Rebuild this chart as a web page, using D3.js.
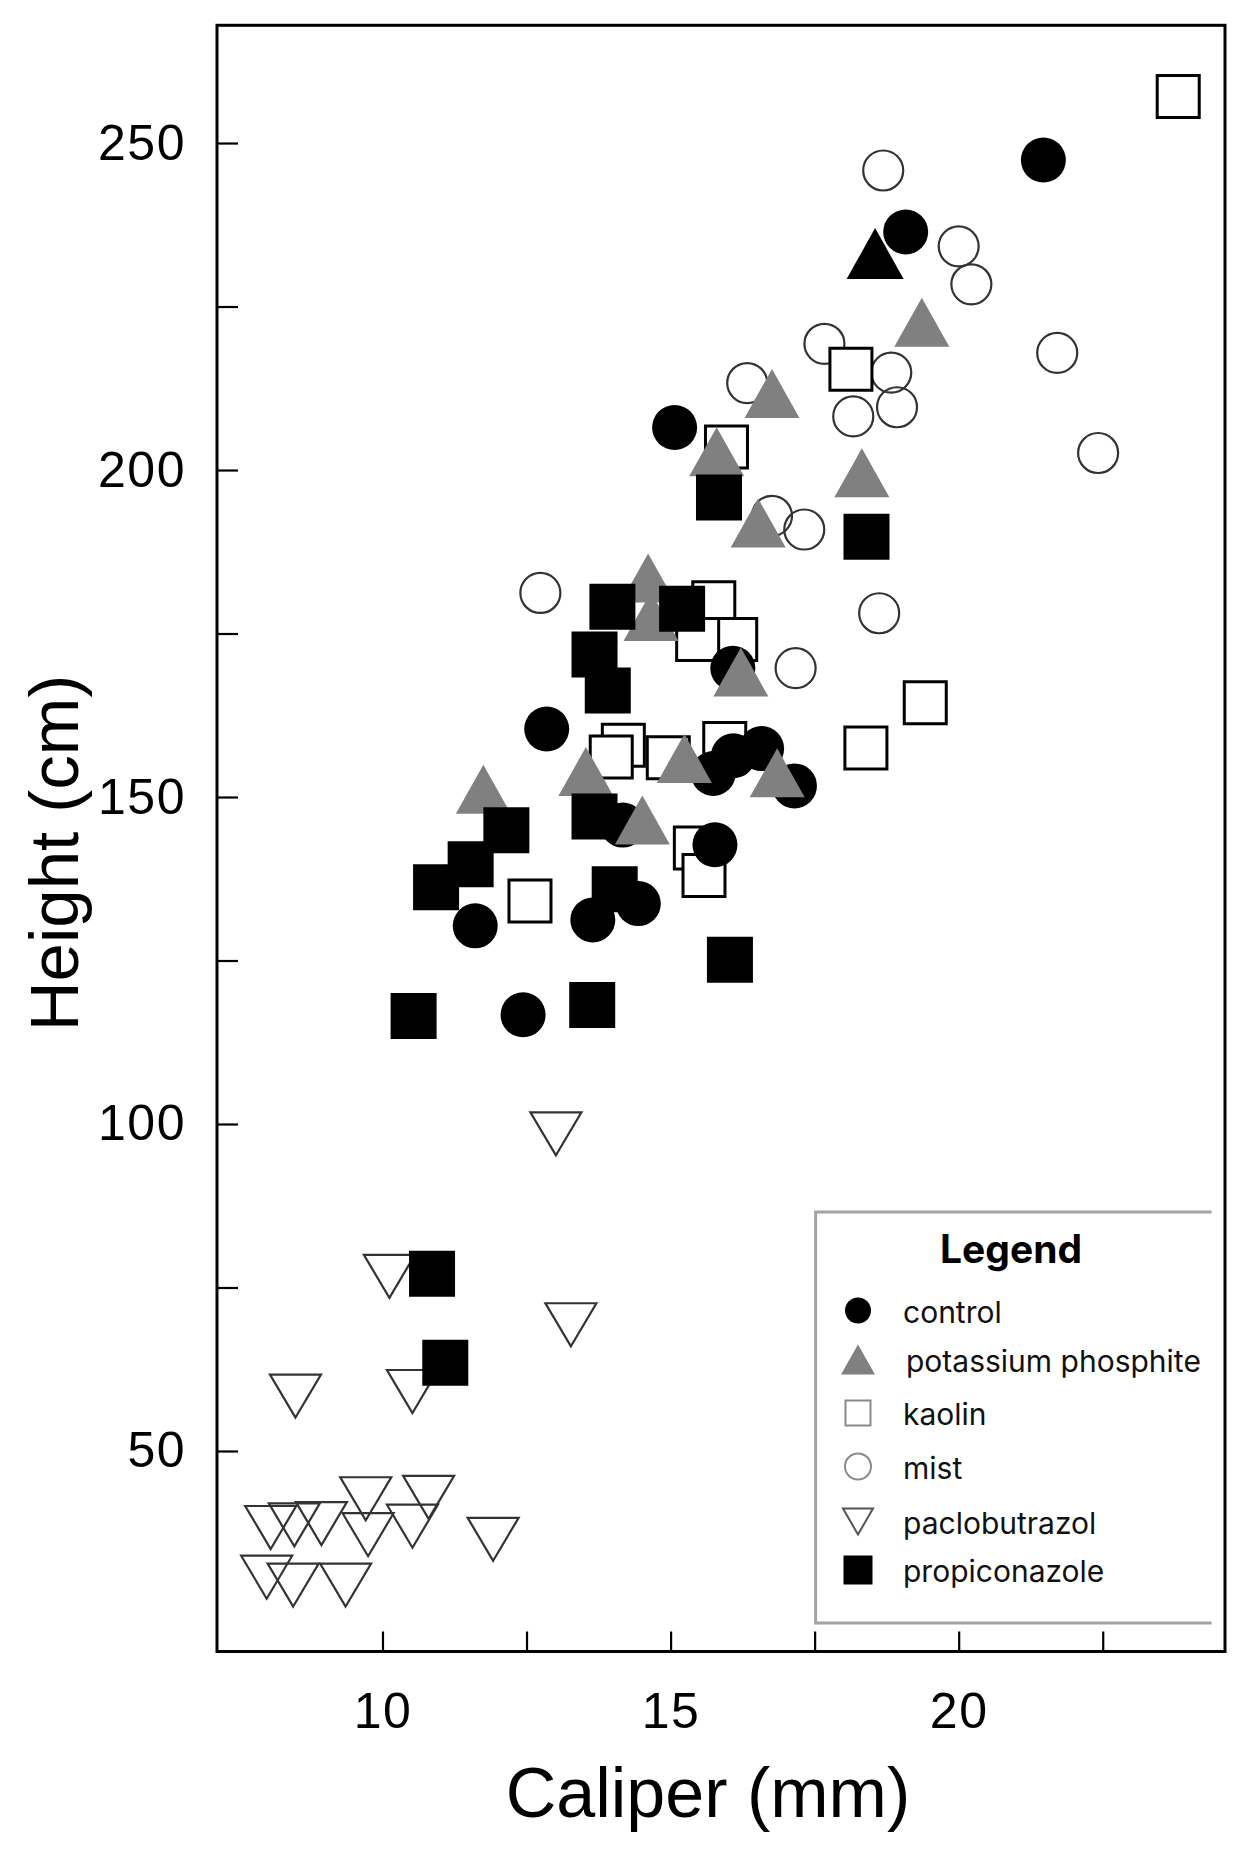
<!DOCTYPE html>
<html><head><meta charset="utf-8">
<script src="https://cdn.jsdelivr.net/npm/d3@7"></script>
<style>html,body{margin:0;padding:0;background:#fff;} svg{display:block;}</style>
</head><body>
<svg id="chart" width="1240" height="1857"></svg>
<script>
// ---------------- DATA (caliper mm, height cm) ----------------
const seriesNames = ["control", "potassium phosphite", "kaolin", "mist", "paclobutrazol", "propiconazole"];

const control = [[21.47,247.4],[19.08,236.4],[15.07,206.5],[16.08,169.7],[12.85,160.4],[15.74,153.6],[16.09,156.3],[16.58,157.4],[17.15,151.7],[14.17,145.7],[15.77,142.7],[14.44,133.7],[13.65,131.2],[11.61,130.3],[12.44,116.7]];
const potassiumPhosphite = [[19.36,222.6],[16.76,211.7],[18.32,199.6],[15.80,202.8],[16.52,191.9],[14.61,183.5],[14.66,177.6],[16.22,169.1],[13.53,153.9],[15.24,155.9],[16.85,153.7],[11.75,151.2],[14.51,146.5]];
const potassiumPhosphiteDark = [[18.55,233.1]];
const kaolin = [[23.81,257.1],[18.13,215.4],[15.97,203.5],[15.75,179.7],[16.13,174.1],[15.47,174.1],[19.42,164.4],[18.39,157.5],[14.18,157.9],[13.97,156.1],[14.96,156.0],[15.94,158.2],[12.56,134.1],[15.43,142.2],[15.58,138.0]];
const mist = [[18.69,245.8],[20.00,234.2],[20.22,228.4],[17.67,219.3],[18.83,214.9],[21.71,217.9],[16.33,213.3],[18.17,208.2],[18.93,209.6],[22.42,202.6],[16.76,193.0],[17.32,190.9],[12.74,181.2],[18.62,178.1],[17.17,169.7]];
const paclobutrazol = [[13.01,98.5],[10.12,76.7],[13.27,69.3],[8.49,58.4],[10.52,59.1],[9.71,42.7],[10.80,42.9],[8.06,38.3],[8.47,38.7],[8.94,38.9],[9.75,37.2],[10.52,38.5],[11.92,36.5],[7.99,30.7],[8.45,29.5],[9.36,29.5]];
const propiconazole = [[15.84,195.8],[18.40,189.8],[13.99,179.1],[15.20,178.8],[13.68,171.8],[13.91,166.3],[12.15,144.9],[11.53,139.7],[10.93,136.2],[13.68,147.0],[14.03,135.9],[16.03,125.1],[10.54,116.5],[13.64,118.2],[10.86,77.1],[11.09,63.5]];

const xTicks = [10, 12.5, 15, 17.5, 20, 22.5];
const xTickLabels = ["10", "", "15", "", "20", ""];
const yTicks = [50, 75, 100, 125, 150, 175, 200, 225, 250];
const yTickLabels = ["50", "", "100", "", "150", "", "200", "", "250"];
const xTitle = "Caliper (mm)";
const yTitle = "Height (cm)";
const legendTitle = "Legend";

// ---------------- LAYOUT ----------------
const svg = d3.select("#chart");
const P = {left: 217, top: 25.3, right: 1225, bottom: 1651.5};
const x = d3.scaleLinear().domain([7.128, 24.622]).range([P.left, P.right]);
const y = d3.scaleLinear().domain([19.34, 268.0]).range([P.bottom, P.top]);

const numFont = "'Liberation Sans', Arial, Helvetica, sans-serif";
const legFont = "Inter, 'Noto Sans', sans-serif";

// symbol path helpers
const circ = r => `M${r},0A${r},${r} 0 1,1 ${-r},0A${r},${r} 0 1,1 ${r},0Z`;
const sq = s => `M${-s/2},${-s/2}h${s}v${s}h${-s}Z`;
const triUp = (w, h) => `M0,${-h/2}L${w/2},${h/2}L${-w/2},${h/2}Z`;
const triDown = (w, h) => `M0,${h/2}L${w/2},${-h/2}L${-w/2},${-h/2}Z`;

const styles = {
  control:       {d: circ(22.5),      fill: "#000",    stroke: "none", sw: 0},
  potassium:     {d: triUp(55, 49),   fill: "#808080", stroke: "none", sw: 0},
  potassiumDark: {d: triUp(57, 51),   fill: "#000",    stroke: "none", sw: 0},
  kaolin:        {d: sq(42),          fill: "#fff",    stroke: "#000", sw: 3},
  mist:          {d: circ(20),        fill: "none",    stroke: "#333", sw: 2.2},
  paclo:         {d: triDown(51, 43), fill: "none",    stroke: "#333", sw: 2.2},
  propi:         {d: sq(46),          fill: "#000",    stroke: "none", sw: 0}
};

// ---------------- AXES ----------------
const xAxis = d3.axisBottom(x).tickValues(xTicks)
  .tickFormat((d, i) => xTickLabels[i]).tickSizeInner(-20).tickSizeOuter(0).tickPadding(41);
const gx = svg.append("g").attr("transform", `translate(0,${P.bottom})`).call(xAxis);
gx.select(".domain").remove();
gx.selectAll(".tick line").attr("stroke", "#000").attr("stroke-width", 2.2);
gx.selectAll(".tick text").attr("font-family", numFont).attr("font-size", 50)
  .attr("letter-spacing", 1.5).attr("fill", "#000");

const yAxis = d3.axisLeft(y).tickValues(yTicks)
  .tickFormat((d, i) => yTickLabels[i]).tickSizeInner(-21).tickSizeOuter(0).tickPadding(31);
const gy = svg.append("g").attr("transform", `translate(${P.left},0)`).call(yAxis);
gy.select(".domain").remove();
gy.selectAll(".tick line").attr("stroke", "#000").attr("stroke-width", 2.2);
gy.selectAll(".tick text").attr("font-family", numFont).attr("font-size", 50)
  .attr("letter-spacing", 1.5).attr("fill", "#000");

// ---------------- MARKS ----------------
const marks = svg.append("g");
function drawSeries(data, st) {
  marks.append("g").selectAll("path").data(data).join("path")
    .attr("transform", d => `translate(${x(d[0])},${y(d[1])})`)
    .attr("d", st.d).attr("fill", st.fill).attr("stroke", st.stroke)
    .attr("stroke-width", st.sw).attr("stroke-linejoin", "miter");
}
drawSeries(paclobutrazol, styles.paclo);
drawSeries(mist, styles.mist);
drawSeries(kaolin, styles.kaolin);
drawSeries(control, styles.control);
drawSeries(potassiumPhosphite, styles.potassium);
drawSeries(potassiumPhosphiteDark, styles.potassiumDark);
drawSeries(propiconazole, styles.propi);

// frame
svg.append("rect").attr("x", P.left).attr("y", P.top)
  .attr("width", P.right - P.left).attr("height", P.bottom - P.top)
  .attr("fill", "none").attr("stroke", "#000").attr("stroke-width", 3);

// ---------------- TITLES ----------------
svg.append("text").attr("x", (P.left + P.right) / 2 - 13).attr("y", 1817)
  .attr("text-anchor", "middle").attr("font-family", numFont).attr("font-size", 70)
  .attr("fill", "#000").text(xTitle);
svg.append("text").attr("transform", `translate(78,${853}) rotate(-90)`)
  .attr("text-anchor", "middle").attr("font-family", numFont).attr("font-size", 69)
  .attr("fill", "#000").text(yTitle);

// ---------------- LEGEND ----------------
const L = {x0: 815.6, y0: 1212, x1: 1211.6, y1: 1623};
const lg = svg.append("g");
lg.append("rect").attr("x", L.x0).attr("y", L.y0).attr("width", L.x1 - L.x0).attr("height", L.y1 - L.y0)
  .attr("fill", "#fff");
lg.append("path").attr("d", `M${L.x1},${L.y0}H${L.x0}V${L.y1}H${L.x1}`)
  .attr("fill", "none").attr("stroke", "#a3a3a3").attr("stroke-width", 3);
lg.append("text").attr("x", 1011).attr("y", 1263).attr("text-anchor", "middle")
  .attr("font-family", legFont).attr("font-weight", 700).attr("font-size", 39)
  .attr("fill", "#000").text(legendTitle);

const legStyles = [
  {d: circ(13),        fill: "#000",    stroke: "none", sw: 0},
  {d: triUp(34, 30),   fill: "#808080", stroke: "none", sw: 0},
  {d: sq(25),          fill: "#fff",    stroke: "#8a8a8a", sw: 2},
  {d: circ(13),        fill: "none",    stroke: "#8a8a8a", sw: 2},
  {d: triDown(30, 26), fill: "none",    stroke: "#555", sw: 2},
  {d: sq(29),          fill: "#000",    stroke: "none", sw: 0}
];
const rowY = [1310.5, 1359.5, 1413, 1466.5, 1521.5, 1570];
const rows = lg.selectAll("g.row").data(seriesNames).join("g").attr("class", "row")
  .attr("transform", (d, i) => `translate(0,${rowY[i]})`);
rows.append("path").attr("transform", "translate(858,0)")
  .attr("d", (d, i) => legStyles[i].d).attr("fill", (d, i) => legStyles[i].fill)
  .attr("stroke", (d, i) => legStyles[i].stroke).attr("stroke-width", (d, i) => legStyles[i].sw);
rows.append("text").attr("x", (d, i) => i === 1 ? 906 : 903).attr("y", 12)
  .attr("font-family", legFont).attr("font-size", 30).attr("fill", "#111").text(d => d);
</script>
</body></html>
